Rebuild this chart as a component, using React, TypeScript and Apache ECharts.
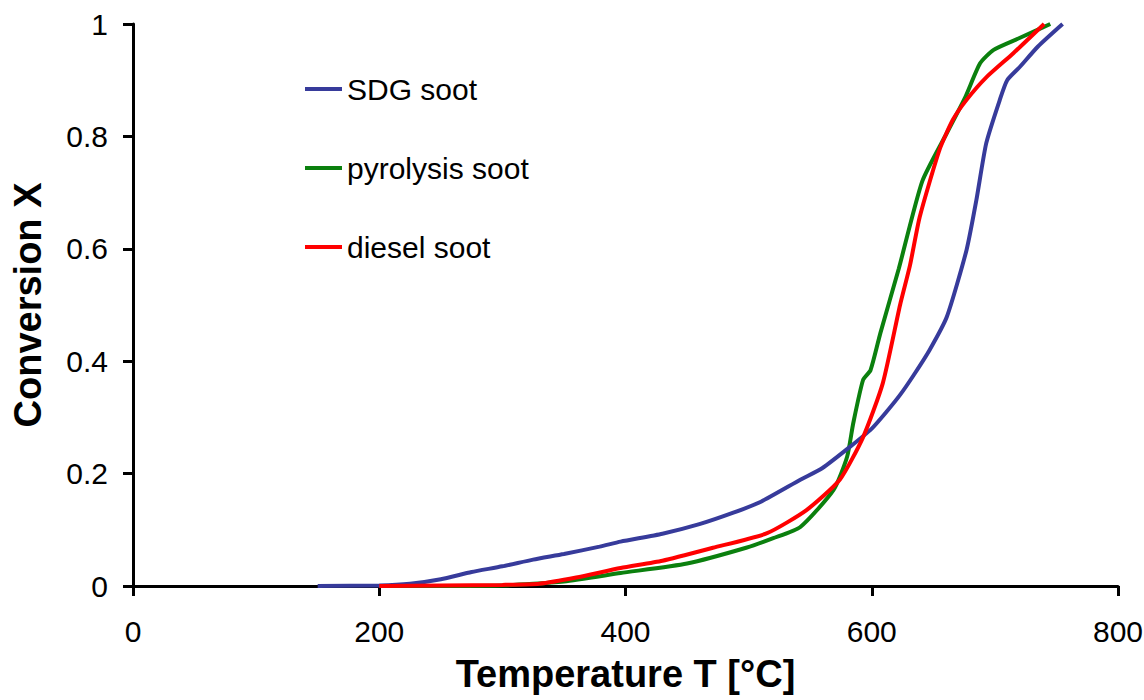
import React, { useEffect, useRef } from "react";
import * as echarts from "echarts";

const seriesNames = ["SDG soot", "pyrolysis soot", "diesel soot"];
const seriesColors = ["#373b9b", "#0b800e", "#ff0000"];

const sdgT = [150, 200, 225, 250, 275, 300, 325, 350, 379, 396, 430, 460, 487, 510, 542, 560, 582, 600, 612, 623, 634, 647, 661, 677, 685, 693, 704, 710, 720, 735, 755];
const sdgX = [0, 0.001, 0.004, 0.012, 0.025, 0.035, 0.047, 0.057, 0.07, 0.079, 0.093, 0.11, 0.13, 0.15, 0.189, 0.21, 0.247, 0.28, 0.31, 0.34, 0.375, 0.42, 0.479, 0.598, 0.687, 0.788, 0.865, 0.9, 0.923, 0.96, 1.0];

const pyroT = [200, 300, 350, 396, 450, 498, 520, 542, 569, 580, 585, 593, 599, 607, 622, 641, 661, 676, 688, 699, 720, 745];
const pyroX = [0, 0.001, 0.008, 0.023, 0.04, 0.068, 0.085, 0.105, 0.171, 0.23, 0.29, 0.367, 0.384, 0.45, 0.565, 0.72, 0.806, 0.87, 0.93, 0.954, 0.975, 1.0];

const dieselT = [200, 250, 300, 330, 360, 396, 430, 471, 515, 547, 574, 593, 609, 623, 631, 639, 655, 666, 677, 693, 715, 740];
const dieselX = [0, 0.001, 0.002, 0.004, 0.015, 0.032, 0.045, 0.068, 0.094, 0.135, 0.189, 0.265, 0.361, 0.5, 0.57, 0.657, 0.776, 0.83, 0.865, 0.905, 0.948, 1.0];

const xTicks = [0, 200, 400, 600, 800];
const yTicks = [0, 0.2, 0.4, 0.6, 0.8, 1];

const zip = (a: number[], b: number[]) => a.map((v, i) => [v, b[i]]);

export default function App() {
  const ref = useRef<HTMLDivElement>(null);
  useEffect(() => {
    if (!ref.current) return;
    const chart = echarts.init(ref.current, null, { renderer: "svg" });
    const font = "'Liberation Sans', Arial, sans-serif";
    const data = [zip(sdgT, sdgX), zip(pyroT, pyroX), zip(dieselT, dieselX)];
    chart.setOption({
      animation: false,
      backgroundColor: "#ffffff",
      textStyle: { fontFamily: font },
      grid: { left: 133, right: 26, top: 24, bottom: 114, containLabel: false, outerBoundsMode: "none" },
      legend: {
        orient: "vertical",
        left: 300,
        top: 69,
        itemGap: 49,
        itemWidth: 37,
        itemHeight: 4,
        data: seriesNames.map((n) => ({ name: n, icon: "rect" })),
        textStyle: { fontSize: 30, color: "#000", fontFamily: font, lineHeight: 30 },
      },
      xAxis: {
        type: "value",
        min: xTicks[0],
        max: xTicks[xTicks.length - 1],
        interval: 200,
        name: "Temperature T [°C]",
        nameLocation: "middle",
        nameGap: 69,
        nameTextStyle: { fontSize: 38, fontWeight: "bold", color: "#000", fontFamily: font },
        axisLine: { show: true, lineStyle: { color: "#000", width: 3 } },
        axisTick: { show: true, inside: false, length: 10, lineStyle: { color: "#000", width: 3 } },
        axisLabel: { fontSize: 30, color: "#000", margin: 30, fontFamily: font },
        splitLine: { show: false },
      },
      yAxis: {
        type: "value",
        min: yTicks[0],
        max: yTicks[yTicks.length - 1],
        interval: 0.2,
        name: "Conversion X",
        nameLocation: "middle",
        nameGap: 86,
        nameTextStyle: { fontSize: 38, fontWeight: "bold", color: "#000", fontFamily: font },
        axisLine: { show: true, lineStyle: { color: "#000", width: 3 } },
        axisTick: { show: true, inside: false, length: 10, lineStyle: { color: "#000", width: 3 } },
        axisLabel: { fontSize: 30, color: "#000", margin: 25, fontFamily: font, formatter: (v: number) => String(Math.round(v * 10) / 10) },
        splitLine: { show: false },
      },
      series: seriesNames.map((n, i) => ({
        name: n,
        type: "line",
        data: data[i],
        showSymbol: false,
        smooth: 0.2,
        color: seriesColors[i],
        lineStyle: { color: seriesColors[i], width: 4 },
        z: i === 0 ? 3 : i === 1 ? 2 : 4,
      })),
    });
    return () => chart.dispose();
  }, []);
  return <div ref={ref} style={{ width: 1144, height: 700, position: "absolute", left: 0, top: 0 }} />;
}
